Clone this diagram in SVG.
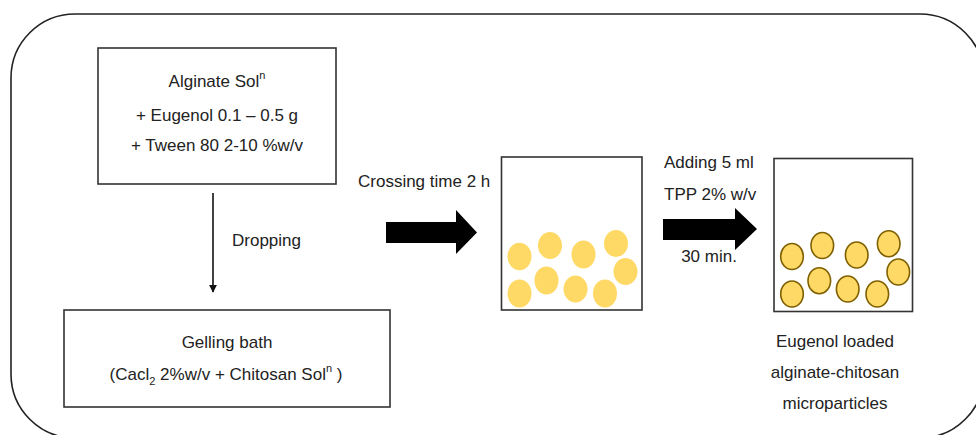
<svg xmlns="http://www.w3.org/2000/svg" width="976" height="435" viewBox="0 0 976 435">
  <style>
    .frame { fill: none; stroke: #222; stroke-width: 1.6; }
    .box { fill: #fff; stroke: #333; stroke-width: 1.6; }
    .t { font-family: "Liberation Sans", Arial, sans-serif; font-size: 17px; fill: #222; }
    .mid { text-anchor: middle; }
    .bead { fill: #FFD966; }
    .bead2 { fill: #FFD966; stroke: #7F6000; stroke-width: 1.6; }
    .block { fill: #000; }
  </style>
  <defs>
    <marker id="arrowDown" viewBox="0 0 10 10" refX="9" refY="5" markerWidth="8" markerHeight="8" markerUnits="userSpaceOnUse" orient="auto">
      <path d="M0,0 L10,5 L0,10 Z" fill="#111"/>
    </marker>
  </defs>

  <!-- outer rounded frame, running past the right and bottom edges -->
  <rect class="frame" x="11" y="14" width="973" height="424" rx="64" ry="64"/>

  <g id="alginate-solution">
    <rect class="box" x="98" y="48" width="238" height="136"/>
    <text class="t mid" x="217" y="87">Alginate Sol<tspan font-size="11" dy="-8">n</tspan></text>
    <text class="t mid" x="217" y="121">+ Eugenol 0.1 – 0.5 g</text>
    <text class="t mid" x="217" y="151">+ Tween 80 2-10 %w/v</text>
  </g>

  <g id="gelling-bath">
    <rect class="box" x="64" y="310" width="326" height="97"/>
    <text class="t mid" x="227" y="348">Gelling bath</text>
    <text class="t mid" x="226" y="380">(Cacl<tspan font-size="11" dy="5">2</tspan><tspan dy="-5"> 2%w/v + Chitosan Sol</tspan><tspan font-size="11" dy="-8">n</tspan><tspan dy="8"> )</tspan></text>
  </g>

  <g id="beaker-crosslinking">
    <rect class="box" x="501.5" y="157" width="140.5" height="153"/>
    <ellipse class="bead" cx="519.5" cy="256.5" rx="12" ry="13.7"/>
    <ellipse class="bead" cx="550" cy="245.5" rx="12" ry="13.5"/>
    <ellipse class="bead" cx="583.5" cy="254.5" rx="12" ry="14"/>
    <ellipse class="bead" cx="616" cy="243.5" rx="12" ry="13.5"/>
    <ellipse class="bead" cx="625.5" cy="271.5" rx="12" ry="13.5"/>
    <ellipse class="bead" cx="519.5" cy="293.5" rx="12" ry="14"/>
    <ellipse class="bead" cx="546.5" cy="280.5" rx="12" ry="14"/>
    <ellipse class="bead" cx="575.5" cy="289" rx="12" ry="13.5"/>
    <ellipse class="bead" cx="605" cy="293.5" rx="12" ry="14"/>
  </g>

  <g id="beaker-microparticles">
    <rect class="box" x="774" y="158.5" width="138.5" height="153"/>
    <ellipse class="bead2" cx="792" cy="256.5" rx="11.3" ry="13"/>
    <ellipse class="bead2" cx="822.3" cy="245.5" rx="11.3" ry="13"/>
    <ellipse class="bead2" cx="856.7" cy="255" rx="11.3" ry="13"/>
    <ellipse class="bead2" cx="888.7" cy="243.7" rx="11.3" ry="13"/>
    <ellipse class="bead2" cx="898.3" cy="272" rx="11.3" ry="13"/>
    <ellipse class="bead2" cx="792" cy="294" rx="11.3" ry="13"/>
    <ellipse class="bead2" cx="819.3" cy="280.7" rx="11.3" ry="13"/>
    <ellipse class="bead2" cx="847.7" cy="289" rx="11.3" ry="13"/>
    <ellipse class="bead2" cx="877.3" cy="294" rx="11.3" ry="13"/>
  </g>

  <g id="product-label">
    <text class="t mid" x="835" y="347">Eugenol loaded</text>
    <text class="t mid" x="835" y="378">alginate-chitosan</text>
    <text class="t mid" x="835" y="409">microparticles</text>
  </g>

  <g id="connectors">
    <!-- dropping into the gelling bath -->
    <line x1="213" y1="193" x2="213" y2="292" stroke="#111" stroke-width="1.6" marker-end="url(#arrowDown)"/>
    <text class="t" x="232" y="246">Dropping</text>

    <!-- crosslinking step -->
    <path class="block" d="M386,222 L456,222 L456,210 L477,232.5 L456,254 L456,243 L386,243 Z"/>
    <text class="t" x="358" y="187">Crossing time 2 h</text>

    <!-- TPP coating step -->
    <path class="block" d="M663,219 L735,219 L735,208 L757,229 L735,250 L735,240 L663,240 Z"/>
    <text class="t" x="664" y="168">Adding 5 ml</text>
    <text class="t" x="664" y="200">TPP 2% w/v</text>
    <text class="t mid" x="709" y="262">30 min.</text>
  </g>
</svg>
